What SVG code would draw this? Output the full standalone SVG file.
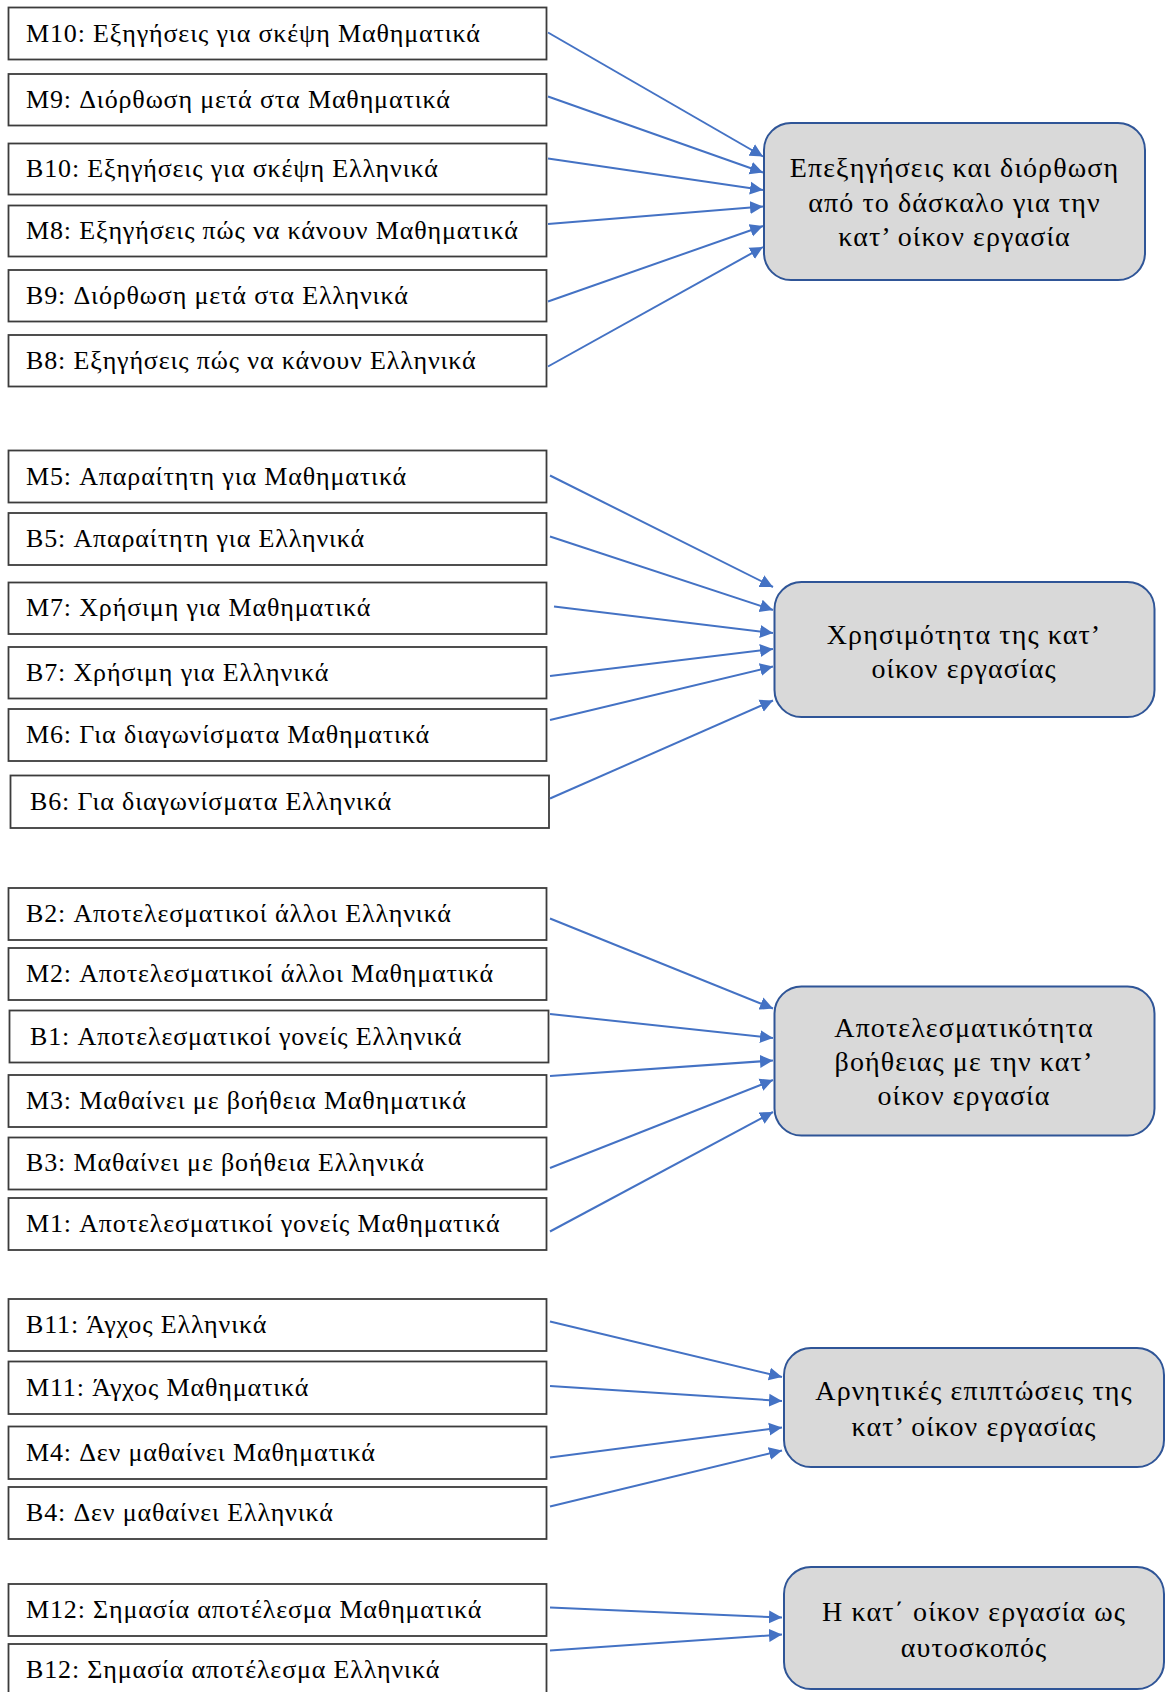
<svg xmlns="http://www.w3.org/2000/svg" width="1165" height="1692" viewBox="0 0 1165 1692">
<style>
.src rect{fill:#ffffff;stroke:#3c3c3c;stroke-width:1.8}
.src text{font-family:"Liberation Serif","Times New Roman",serif;font-size:26px;letter-spacing:0.85px;fill:#000}
.dst rect{fill:#d9d9d9;stroke:#2f5597;stroke-width:2}
.dst text{font-family:"Liberation Serif","Times New Roman",serif;font-size:28px;letter-spacing:1.1px;fill:#000;text-anchor:middle}
#connectors line{stroke:#4472c4;stroke-width:2;marker-end:url(#ah)}
</style>
<defs>
<marker id="ah" markerUnits="userSpaceOnUse" markerWidth="14" markerHeight="14" refX="13" refY="6.5" orient="auto" viewBox="0 0 14 13">
<path d="M0,0 L13,6.5 L0,13 z" fill="#4472c4"/>
</marker>
</defs>
<rect width="1165" height="1692" fill="#ffffff"/>

<g class="src">
<g id="M10"><rect x="8.5" y="7.5" width="538" height="52"/><text x="26" y="42">M10: Εξηγήσεις για σκέψη Μαθηματικά</text></g>
<g id="M9"><rect x="8.5" y="74" width="538" height="51.5"/><text x="26" y="108">M9: Διόρθωση μετά στα Μαθηματικά</text></g>
<g id="B10"><rect x="8.5" y="143.5" width="538" height="51"/><text x="26" y="177">B10: Εξηγήσεις για σκέψη Ελληνικά</text></g>
<g id="M8"><rect x="8.5" y="205.5" width="538" height="51"/><text x="26" y="239">M8: Εξηγήσεις πώς να κάνουν Μαθηματικά</text></g>
<g id="B9"><rect x="8.5" y="270" width="538" height="51.5"/><text x="26" y="304">B9: Διόρθωση μετά στα Ελληνικά</text></g>
<g id="B8"><rect x="8.5" y="335" width="538" height="51.5"/><text x="26" y="369">B8: Εξηγήσεις πώς να κάνουν Ελληνικά</text></g>

<g id="M5"><rect x="8.5" y="450.5" width="538" height="52"/><text x="26" y="485">M5: Απαραίτητη για Μαθηματικά</text></g>
<g id="B5"><rect x="8.5" y="513" width="538" height="52"/><text x="26" y="547">B5: Απαραίτητη για Ελληνικά</text></g>
<g id="M7"><rect x="8.5" y="582.5" width="538" height="51.5"/><text x="26" y="616">M7: Χρήσιμη για Μαθηματικά</text></g>
<g id="B7"><rect x="8.5" y="647" width="538" height="51.5"/><text x="26" y="681">B7: Χρήσιμη για Ελληνικά</text></g>
<g id="M6"><rect x="8.5" y="709" width="538" height="52"/><text x="26" y="743">M6: Για διαγωνίσματα Μαθηματικά</text></g>
<g id="B6"><rect x="10.5" y="775.5" width="538.5" height="52.5"/><text x="30" y="810">B6: Για διαγωνίσματα Ελληνικά</text></g>

<g id="B2"><rect x="8.5" y="888" width="538" height="52"/><text x="26" y="922">B2: Αποτελεσματικοί άλλοι Ελληνικά</text></g>
<g id="M2"><rect x="8.5" y="948" width="538" height="52"/><text x="26" y="982">M2: Αποτελεσματικοί άλλοι Μαθηματικά</text></g>
<g id="B1"><rect x="9.5" y="1010.5" width="539" height="52"/><text x="30" y="1045">B1: Αποτελεσματικοί γονείς Ελληνικά</text></g>
<g id="M3"><rect x="8.5" y="1075" width="538" height="52"/><text x="26" y="1109">M3: Μαθαίνει με βοήθεια Μαθηματικά</text></g>
<g id="B3"><rect x="8.5" y="1137.5" width="538" height="52"/><text x="26" y="1171">B3: Μαθαίνει με βοήθεια Ελληνικά</text></g>
<g id="M1"><rect x="8.5" y="1198" width="538" height="52"/><text x="26" y="1232">M1: Αποτελεσματικοί γονείς Μαθηματικά</text></g>

<g id="B11"><rect x="8.5" y="1299" width="538" height="52"/><text x="26" y="1333">B11: Άγχος Ελληνικά</text></g>
<g id="M11"><rect x="8.5" y="1361.5" width="538" height="52.5"/><text x="26" y="1396">M11: Άγχος Μαθηματικά</text></g>
<g id="M4"><rect x="8.5" y="1426.5" width="538" height="52.5"/><text x="26" y="1461">M4: Δεν μαθαίνει Μαθηματικά</text></g>
<g id="B4"><rect x="8.5" y="1487" width="538" height="52"/><text x="26" y="1521">B4: Δεν μαθαίνει Ελληνικά</text></g>

<g id="M12"><rect x="8.5" y="1584" width="538" height="52"/><text x="26" y="1618">M12: Σημασία αποτέλεσμα Μαθηματικά</text></g>
<g id="B12"><rect x="8.5" y="1644" width="538" height="60"/><text x="26" y="1678">B12: Σημασία αποτέλεσμα Ελληνικά</text></g>
</g>

<g class="dst">
<g id="T1"><rect x="764" y="123" width="381" height="157" rx="27"/>
<text x="954.5" y="177">Επεξηγήσεις και διόρθωση</text>
<text x="954.5" y="211.5">από το δάσκαλο για την</text>
<text x="954.5" y="246">κατ’ οίκον εργασία</text></g>
<g id="T2"><rect x="774.5" y="582" width="380" height="135" rx="27"/>
<text x="964" y="644">Χρησιμότητα της κατ’</text>
<text x="964" y="678">οίκον εργασίας</text></g>
<g id="T3"><rect x="774.5" y="986.5" width="380" height="149" rx="27"/>
<text x="964" y="1037">Αποτελεσματικότητα</text>
<text x="964" y="1071">βοήθειας με την κατ’</text>
<text x="964" y="1105">οίκον εργασία</text></g>
<g id="T4"><rect x="784" y="1348" width="380" height="119" rx="27"/>
<text x="974" y="1400">Αρνητικές επιπτώσεις της</text>
<text x="974" y="1436">κατ’ οίκον εργασίας</text></g>
<g id="T5"><rect x="784" y="1567" width="380" height="122" rx="27"/>
<text x="974" y="1621">Η κατ΄ οίκον εργασία ως</text>
<text x="974" y="1657">αυτοσκοπός</text></g>
</g>

<g id="connectors">
<line x1="548" y1="32.5" x2="763" y2="156.5"/>
<line x1="548" y1="96.5" x2="763" y2="172.5"/>
<line x1="548" y1="158.5" x2="763" y2="190"/>
<line x1="548" y1="224" x2="763" y2="206.5"/>
<line x1="548" y1="301.5" x2="763" y2="226"/>
<line x1="548" y1="366.5" x2="763" y2="247"/>

<line x1="550" y1="475.5" x2="773" y2="587"/>
<line x1="550" y1="536.5" x2="773" y2="610"/>
<line x1="554" y1="606.5" x2="773" y2="633"/>
<line x1="550" y1="676" x2="773" y2="649"/>
<line x1="550" y1="720" x2="773" y2="666.5"/>
<line x1="550" y1="798.5" x2="773" y2="700.5"/>

<line x1="550" y1="918.5" x2="773" y2="1008.5"/>
<line x1="550" y1="1014" x2="773" y2="1038"/>
<line x1="550" y1="1076" x2="773" y2="1060.5"/>
<line x1="550" y1="1168" x2="773" y2="1080"/>
<line x1="550" y1="1231.5" x2="773" y2="1112"/>

<line x1="550" y1="1321.5" x2="782" y2="1377"/>
<line x1="550" y1="1386" x2="782" y2="1401"/>
<line x1="550" y1="1457.5" x2="782" y2="1427.5"/>
<line x1="550" y1="1506.5" x2="782" y2="1450.5"/>

<line x1="550" y1="1607.5" x2="782" y2="1617.5"/>
<line x1="550" y1="1650.5" x2="782" y2="1634.5"/>
</g>
</svg>
